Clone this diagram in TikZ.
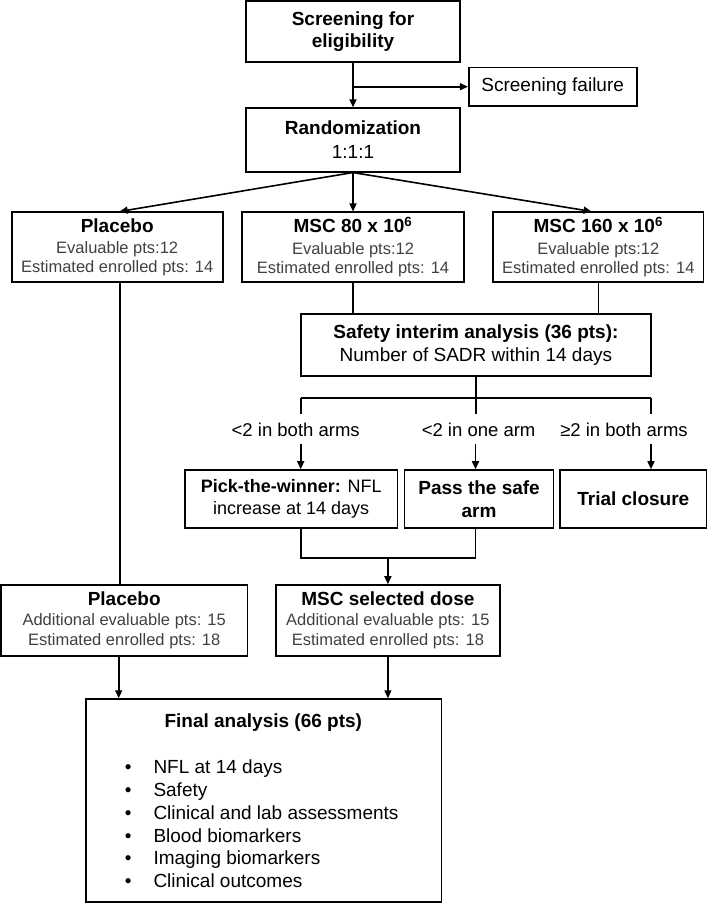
\documentclass[tikz,border=0pt]{standalone}
\usepackage{fontspec}
\setmainfont{Liberation Sans}
\usetikzlibrary{arrows.meta,calc}
\definecolor{gtxt}{gray}{0.25}
\newcommand{\rgf}{\fontsize{19}{22.5}\selectfont}
\newcommand{\gtf}{\fontsize{16.5}{18.6}\selectfont}
\newcommand{\hdx}[1]{{\fontsize{19}{22.5}\selectfont\bfseries\color{black}#1}}
\begin{document}
\begin{tikzpicture}[x=1pt,y=-1pt,
  box/.style={draw, line width=1.6pt, inner sep=0pt, align=center, font=\rgf},
  gbox/.style={box, font=\gtf, text=gtxt},
  conn/.style={line width=1.6pt},
  arr/.style={line width=1.6pt, -{Triangle[length=8pt,width=7pt]}},
  lbl/.style={font=\fontsize{18.5}{21}\selectfont, inner sep=0pt}]
\useasboundingbox (0,0) rectangle (708,903);

% boxes
\node[box, minimum width=214, minimum height=61] (scr) at (353,31.5) {{\bfseries Screening for}\\{\bfseries eligibility}};
\node[box, minimum width=168, minimum height=38.7] (fail) at (552.7,86.7) {Screening failure};
\node[box, minimum width=214, minimum height=63.7] (rand) at (353,139.9) {{\bfseries Randomization}\\[1.5pt]1:1:1};

\node[gbox, minimum width=211, minimum height=69.5] (plc) at (117.2,247) {\hdx{Placebo}\\[3pt]Evaluable pts:12\\Estimated enrolled pts: 14};
\node[gbox, minimum width=222, minimum height=69.5] (m80) at (353,247) {\hdx{MSC 80 x 10\textsuperscript{6}}\\[3pt]Evaluable pts:12\\Estimated enrolled pts: 14};
\node[gbox, minimum width=210.5, minimum height=69.5] (m160) at (598.3,247) {\hdx{MSC 160 x 10\textsuperscript{6}}\\[3pt]Evaluable pts:12\\Estimated enrolled pts: 14};

\node[box, minimum width=350.3, minimum height=62] (safety) at (475.9,345) {{\bfseries Safety interim analysis (36 pts):}\\Number of SADR within 14 days};

\node[box, font=\fontsize{18}{21.7}\selectfont, minimum width=212.4, minimum height=58] (pick) at (291.2,499) {{\bfseries Pick-the-winner:} NFL\\increase at 14 days};
\node[box, minimum width=149, minimum height=58] (pass) at (479.1,499) {{\bfseries Pass the safe}\\{\bfseries arm}};
\node[box, minimum width=146.6, minimum height=58] (trial) at (633.3,499) {\bfseries Trial closure};

\node[gbox, minimum width=246.4, minimum height=71] (plc2) at (124.2,620.5) {\hdx{Placebo}\\[1.3pt]Additional evaluable pts: 15\\[1.4pt]Estimated enrolled pts: 18};
\node[gbox, minimum width=223.8, minimum height=71] (msel) at (387.9,620.5) {\hdx{MSC selected dose}\\[1.3pt]Additional evaluable pts: 15\\[1.4pt]Estimated enrolled pts: 18};

\node[box, minimum width=355.8, minimum height=202.7] (final) at (263.7,800.4) {};
\node[anchor=base, font=\rgf\bfseries, inner sep=0pt] (ftitle) at (263.3,727.5) {Final analysis (66 pts)};
\foreach \t [count=\i] in {NFL at 14 days, Safety, Clinical and lab assessments, Blood biomarkers, Imaging biomarkers, Clinical outcomes}{
  \node[anchor=base, font=\rgf, inner sep=0pt] (bul\i) at (128.3,{773.5+22.86*(\i-1)}) {•};
  \node[anchor=base west, font=\rgf, inner sep=0pt] (item\i) at (153.3,{773.5+22.86*(\i-1)}) {\t};
}

% labels
\node[lbl] (l1) at (295.7,430) {<2 in both arms};
\node[lbl] (l2) at (478.6,430) {<2 in one arm};
\node[lbl] (l3) at (624,430) {≥2 in both arms};

% connectors
\draw[arr] (scr.south) -- (rand.north);
\draw[arr] (scr.south |- fail.west) -- (fail.west);
\draw[arr] (rand.south) -- ([xshift=2.5]plc.north);
\draw[arr] (rand.south) -- (m80.north);
\draw[arr] (rand.south) -- ([xshift=-6.8]m160.north);
\draw[conn] (m80.south) -- (m80.south |- safety.north);
\draw[conn] (m160.south) -- (m160.south |- safety.north);

\coordinate (jl) at (300.7,398);
\coordinate (jr) at (651,398);
\coordinate (j0) at (safety.south |- jl);
\draw[conn] (safety.south) -- (j0);
\draw[conn] (jl) -- (jr);
\draw[conn] (jl) -- ++(0,16);
\draw[conn] (j0) -- ++(0,16);
\draw[conn] (jr) -- ++(0,16);

\coordinate (a1) at (300.7,444);
\coordinate (a2) at (475.5,444);
\coordinate (a3) at (651,444);
\draw[arr] (a1) -- (a1 |- pick.north);
\draw[arr] (a2) -- (a2 |- pass.north);
\draw[arr] (a3) -- (a3 |- trial.north);

\coordinate (m1) at (300.7,558);
\coordinate (m2) at (475.5,558);
\draw[conn] (a1 |- pick.south) -- (m1) -- (m2) -- (a2 |- pass.south);
\draw[arr] (msel.north |- m1) -- (msel.north);

\draw[conn] ([xshift=2.5]plc.south) -- ([xshift=2.5]plc.south |- plc2.north);
\draw[arr] ([xshift=-5.5]plc2.south) -- ([xshift=-5.5]plc2.south |- final.north);
\draw[arr] (msel.south) -- (msel.south |- final.north);
\end{tikzpicture}
\end{document}
